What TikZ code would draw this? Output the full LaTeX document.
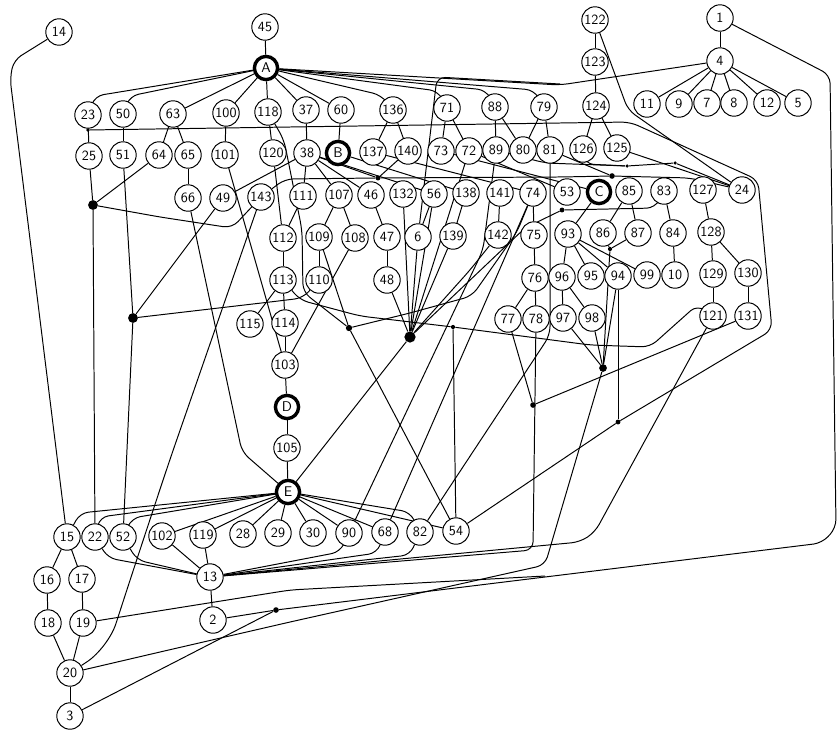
\documentclass[tikz,border=0pt]{standalone}
\usetikzlibrary{backgrounds}
\tikzset{
  vtx/.style={circle,draw,line width=0.7pt,inner sep=0.5pt,minimum size=0.66cm,fill=white,
    font=\sffamily\fontsize{10}{12}\selectfont},
  hub/.style={vtx,line width=2.4pt,minimum size=0.58cm},
  jn/.style={circle,fill=black,inner sep=0pt,minimum size=#1},
  jn/.default=3pt,
  wire/.style={line width=0.7pt,line join=round,rounded corners=6pt}
}

\begin{document}
\begin{tikzpicture}[x=0.025cm,y=-0.025cm]
\useasboundingbox (0,0) rectangle (839,729);

% vertices
\foreach \n/\x/\y in {14/59/32,45/265/27,122/595/20,1/720/18,123/595/62,4/720/61,
  11/647/104,9/679/104,7/707/103,8/734/103,12/767/103,5/798/103,124/596/106,
  23/88/115,50/123/114,63/173/114,100/226/113,118/268/112,37/306/110,60/341/110,
  136/393/110,71/447/108,88/495/107,79/544/107,
  25/89/156,51/123/155,64/159/155,65/188/155,101/225/155,120/273/153,38/307/153,
  137/373/152,140/408/151,73/441/151,72/469/151,89/496/150,80/523/150,81/550/150,
  126/583/149,125/617/148,
  66/188/198,49/223/198,143/261/197,111/303/196,107/339/195,46/371/195,132/403/194,
  56/434/194,138/466/193,141/500/193,74/533/193,53/567/192,85/629/191,83/664/191,
  127/703/190,24/742/190,
  112/283/238,109/319/237,108/355/238,47/387/237,6/418/237,139/453/236,142/498/235,
  75/534/235,93/568/234,86/603/233,87/638/233,84/673/233,128/711/232,
  113/283/280,110/319/280,48/387/280,76/535/278,96/562/277,95/591/276,94/618/276,
  99/647/275,10/675/275,129/713/274,130/748/273,
  115/250/324,114/285/323,77/508/319,78/536/319,97/563/318,98/592/318,121/713/316,
  131/748/316,103/285/365,105/287/448,
  15/67/537,22/95/537,52/123/537,102/162/536,119/203/535,28/243/534,29/278/533,
  30/313/533,90/349/533,68/385/532,82/420/532,54/456/531,
  16/47/580,17/82/579,13/210/577,18/48/623,19/83/623,2/213/620,20/70/673,3/70/716}
  \node[vtx] (v\n) at (\x,\y) {\n};

\node[hub] (A) at (266,68) {A};
\node[hub] (B) at (338,153) {B};
\node[hub] (C) at (599,192) {C};
\node[hub] (D) at (287,407) {D};
\node[hub] (E) at (288,492) {E};

% junctions
\foreach \n/\x/\y/\s in {88/88/130/2.5pt,92/93/205/7pt,132/133/318/7pt,378/378/178/3.5pt,
  348/349/328/4.5pt,409/410/337/8pt,453/453/327/3pt,533/533/405/4pt,562/562/210/3.5pt,
  603/603/368/5.5pt,610/610/249/3pt,612/612/176/4pt,618/618/422/3.5pt,627/627/166/2.5pt,
  675/675/163/2.5pt,276/276/610/4pt}
  \node[jn=\s] (j\n) at (\x,\y) {};

\begin{scope}[on background layer]
\foreach \a/\b in {A/v45,A/v63,A/v100,A/v118,A/v37,A/v60,
  v23/v25,v50/v51,v63/v64,v63/v65,v65/v66,v100/v101,v118/v120,v37/v38,v60/B,
  v136/v137,v136/v140,v71/v73,v71/v72,v88/v89,v88/v80,v79/v80,v79/v81,
  v122/v123,v123/v124,v124/v126,v124/v125,v1/v4,v4/v11,v4/v9,v4/v7,v4/v8,v4/v12,v4/v5,
  v25/j92,j92/v22,v64/j92,v51/j132,j132/v52,v49/j132,
  v38/v111,v38/v107,v38/v46,v38/v56,v38/j378,v140/j378,v49/v38,B/v138,v137/v74,
  v111/v112,v120/v112,v112/v113,v113/v114,v114/v103,v113/v115,v101/v103,v108/v103,
  v107/v109,v107/v108,v109/v110,
  v46/v47,v47/v48,v48/j409,v132/j409,v6/j409,v56/v6,v56/j409,v138/v139,v139/j409,
  v141/v142,v72/j409,
  v74/v75,v75/v76,v76/v77,v76/v78,v77/j533,v131/j533,v72/v53,v73/C,C/v93,
  v85/v86,v85/v87,v86/j610,v87/j610,j610/j603,v83/v84,v84/v10,v127/v128,v128/v129,
  v128/v130,v129/v121,v130/v131,
  v93/v96,v93/v95,v93/v94,v93/v99,v96/v97,v96/v98,v97/j603,v98/j603,v94/j603,v94/j618,
  v125/v24,v81/j612,
  v103/D,D/v105,v105/E,E/j409,E/v102,E/v119,E/v28,E/v29,E/v30,E/v90,E/v68,E/v54,
  v15/v16,v15/v17,v16/v18,v17/v19,v18/v20,v19/v20,v20/v3,v102/v13,v119/v13,v13/v2,
  j276/v2,j276/v3,
  v109/j348,j348/v54,j453/v54,v74/v68}
  \draw[wire] (\a) -- (\b);

\draw[wire] (A) -- (95,96) -- (v23);
\draw[wire] (A) -- (130,96) -- (v50);
\draw[wire] (A) -- (381,95) -- (v136);
\draw[wire] (A) -- (438,91) -- (v71);
\draw[wire] (A) -- (486,90) -- (v88);
\draw[wire] (A) -- (534,90) -- (v79);
\draw[wire] (A) -- (560,85) -- (v4);
\draw[wire] (v6) -- (437,77) -- (560,84);
\draw[wire] (j88) -- (560,123) -- (630,122) -- (758,180) -- (772,330) -- (j618) -- (v54);
\draw[wire] (v14) -- (14,60) -- (10,78) -- (v15);
\draw[wire] (j92) -- (160,217) -- (232,228) -- (v143);
\draw[wire,rounded corners=18pt] (v143) -- (168,465) -- (134,568) -- (108,648) -- (v20);
\draw[wire] (v143) -- (285,179) -- (j378) -- (560,177) -- (j612) -- (690,178) -- (v24);
\draw[wire] (v118) -- (284,140) -- (302,230) -- (303,292) -- (j348);
\draw[wire] (v113) -- (300,300) -- (360,316) -- (j453) -- (590,345) -- (650,347) -- (697,305) -- (v121);
\draw[wire] (j348) -- (410,313) -- (472,296) -- (517,232) -- (v74);
\draw[wire] (j132) -- (270,302) -- (303,298) -- (v110);
\draw[wire] (v66) -- (242,452) -- (E);
\draw[wire] (v81) -- (550,335) -- (v82);
\draw[wire] (v89) -- (483,250) -- (v90);
\draw[wire] (v142) -- (470,270) -- (j409);
\draw[wire] (v83) -- (655,208) -- (j562) -- (525,228) -- (j409);
\draw[wire] (v89) -- (545,163) -- (j627) -- (j675) -- (v24);
\draw[wire] (v126) -- (585,164) -- (j627);
\draw[wire] (v122) -- (628,110) -- (v24);
\draw[wire] (v1) -- (830,75) -- (836,528) -- (822,543) -- (545,577) -- (j276);
\draw[wire] (v19) -- (290,590) -- (545,576);
\draw[wire] (v20) -- (160,652) -- (290,622) -- (545,565) -- (j603);
\draw[wire] (v121) -- (595,532) -- (580,542) -- (v13);
\draw[wire] (v78) -- (533,550) -- (v13);
\draw[wire] (v90) -- (340,552) -- (v13);
\draw[wire] (v68) -- (377,553) -- (v13);
\draw[wire] (v82) -- (410,555) -- (v13);
\draw[wire] (E) -- (80,513) -- (v15);
\draw[wire] (E) -- (100,517) -- (v22);
\draw[wire] (E) -- (132,518) -- (v52);
\draw[wire] (E) -- (410,512) -- (v82);
\draw[wire] (v22) -- (108,558) -- (v13);
\draw[wire] (v52) -- (137,560) -- (v13);
\end{scope}

\end{tikzpicture}
\end{document}
